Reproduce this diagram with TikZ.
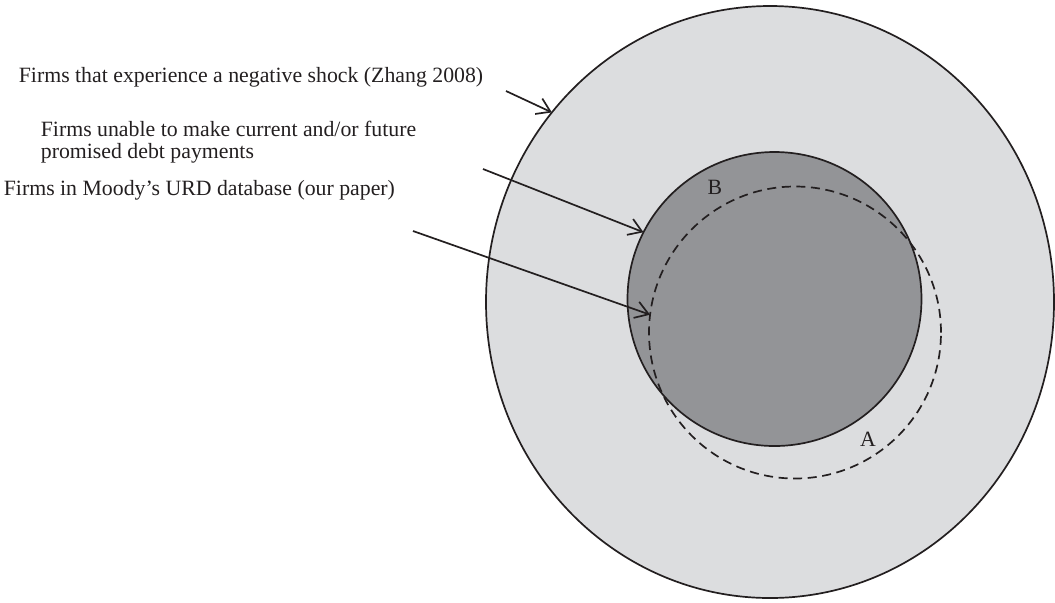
\documentclass[tikz,border=0pt]{standalone}
\usepackage{fontspec}
\setmainfont{Liberation Serif}
\usetikzlibrary{shapes.geometric,arrows.meta}
\definecolor{lightfill}{HTML}{DCDDDF}
\definecolor{darkfill}{HTML}{939497}
\definecolor{ink}{HTML}{231F20}
\begin{document}
\begin{tikzpicture}[x=0.5pt,y=-0.5pt, line width=0.85pt,
  lbl/.style={font=\fontsize{10.9}{11.3}\selectfont, text=ink, inner sep=0pt, anchor=west},
  letter/.style={font=\fontsize{10.9}{11.3}\selectfont, text=ink, inner sep=0pt},
  pointer/.style={draw=ink, line width=0.85pt, -{Straight Barb[length=6.5pt,width=8.5pt]}},
  ring/.style={draw=ink, line width=0.85pt, inner sep=0pt, outer sep=0pt}
]
\useasboundingbox (0,0) rectangle (1055,602);
\node[ring, ellipse, fill=lightfill, minimum width=284pt, minimum height=296pt] (outer) at (770,302) {};
\node[ring, circle, fill=darkfill, minimum size=147pt] (dark) at (774.5,299) {};
\node[ring, circle, dash pattern=on 4.5pt off 2.8pt, minimum size=146pt] (dash) at (795,332.5) {};

\node[letter] (B) at (715,187) {B};
\node[letter] (A) at (868,439) {A};

\node[lbl] (t1) at (18,77) {Firms that experience a negative shock (Zhang 2008)};
\node[lbl, align=left] (t2) at (40,142) {Firms unable to make current and/or future\\promised debt payments};
\node[lbl] (t3) at (3,190) {Firms in Moody’s URD database (our paper)};

\coordinate (s1) at (506,91);
\coordinate (s2) at (483,169);
\coordinate (s3) at (413,231);

\draw[pointer] (s1) -- (outer.139);
\draw[pointer] (s2) -- (dark.153);
\draw[pointer] (s3) -- (dash.173);
\end{tikzpicture}
\end{document}
